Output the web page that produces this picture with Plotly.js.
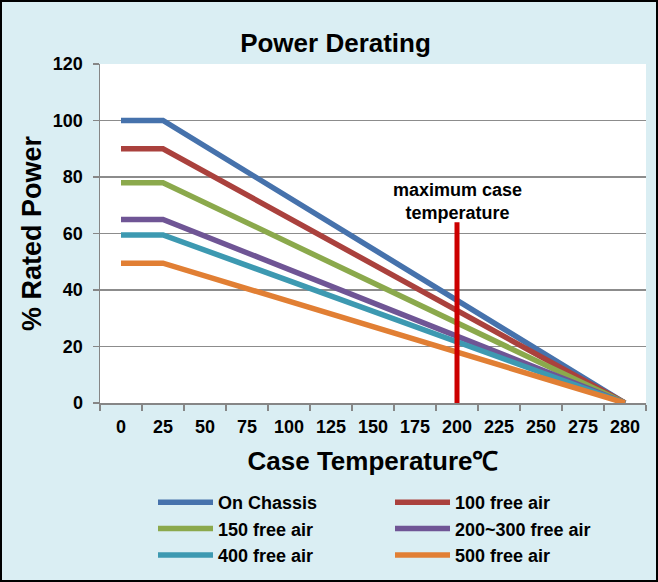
<!DOCTYPE html>
<html>
<head>
<meta charset="utf-8">
<script src="https://cdn.plot.ly/plotly-3.0.1.min.js"></script>
<style>
html,body{margin:0;padding:0;background:#DAEEF3;}
#wrap{width:658px;height:582px;box-sizing:border-box;border:2px solid #000;overflow:hidden;}
#chart{width:654px;height:578px;}
</style>
</head>
<body>
<div id="wrap"><div id="chart"></div></div>
<script>
// Category labels on the x axis (Case Temperature)
const categories = ["0","25","50","75","100","125","150","175","200","225","250","275","280"];
// Each series: flat to 25, then straight down to 0 at 280
const seriesX = ["0","25","280"];
const onChassis = [100, 100, 0];
const air100 = [90, 90, 0];
const air150 = [78, 78, 0];
const air200_300 = [65, 65, 0];
const air400 = [59.5, 59.5, 0];
const air500 = [49.5, 49.5, 0];
const seriesNames = ["On Chassis","100 free air","150 free air","200~300 free air","400 free air","500 free air"];
const seriesColors = ["#4672AC","#AA413D","#8BA94C","#6F5595","#3D99B1","#E17F34"];
// Maximum case temperature marker
const maxTempX = ["200","200"];
const maxTempY = [0, 64];
const maxTempLabel = "maximum case<br>temperature";
const maxTempLabelY = 71.5;

const seriesValues = [onChassis, air100, air150, air200_300, air400, air500];
const FONT = "Liberation Sans, Arial, sans-serif";

const traces = seriesValues.map((v, i) => ({
  type: "scatter", mode: "lines", x: seriesX, y: v, name: seriesNames[i],
  line: {color: seriesColors[i], width: 5.5}
}));
traces.push({
  type: "scatter", mode: "lines", x: maxTempX, y: maxTempY, showlegend: false,
  line: {color: "#CC0000", width: 5}, hoverinfo: "skip"
});

const layout = {
  width: 654, height: 578,
  paper_bgcolor: "#DAEEF3", plot_bgcolor: "#FFFFFF",
  margin: {l: 98, r: 10, t: 62, b: 177, autoexpand: false},
  font: {family: FONT, color: "#000", size: 17, weight: "bold"},
  title: {text: "Power Derating", font: {family: FONT, size: 26, color: "#000", weight: "bold"},
          xref: "container", yref: "container", x: 333.5/654, y: 1 - 41/578, xanchor: "center", yanchor: "middle"},
  xaxis: {
    type: "category", categoryorder: "array", categoryarray: categories,
    range: [-0.5, 12.5], tickson: "boundaries", ticks: "outside", ticklen: 6, tickcolor: "#868686", tickwidth: 1.5,
    showline: true, linecolor: "#868686", linewidth: 1.5, showgrid: false, zeroline: false,
    tickfont: {family: FONT, size: 18, color: "#000", weight: "bold"}, ticklabelstandoff: 7,
    title: {text: "Case Temperature℃", font: {family: FONT, size: 26, color: "#000", weight: "bold"}, standoff: 15}
  },
  yaxis: {
    range: [0, 120], dtick: 20, ticks: "outside", ticklen: 6, tickcolor: "#868686", tickwidth: 1.5,
    showline: true, linecolor: "#868686", linewidth: 1.5, gridcolor: "#8C8C8C", gridwidth: 1.5, zeroline: false,
    tickfont: {family: FONT, size: 18, color: "#000", weight: "bold"}, ticklabelstandoff: 6,
    title: {text: "% Rated Power", font: {family: FONT, size: 27, color: "#000", weight: "bold"}, standoff: 3}
  },
  legend: {
    orientation: "h", xref: "container", yref: "container",
    x: 151/654, xanchor: "left", y: 1 - 482/578, yanchor: "top",
    entrywidth: 167, itemwidth: 55, bgcolor: "rgba(0,0,0,0)",
    font: {family: FONT, size: 18, color: "#000", weight: "bold"}
  },
  annotations: [{
    x: categories.indexOf(maxTempX[0]), y: maxTempLabelY, xref: "x", yref: "y", showarrow: false,
    text: maxTempLabel, font: {family: FONT, size: 18, color: "#000", weight: "bold"},
    align: "center"
  }],
  showlegend: true
};

Plotly.newPlot("chart", traces, layout, {displayModeBar: false, staticPlot: true});
</script>
</body>
</html>
